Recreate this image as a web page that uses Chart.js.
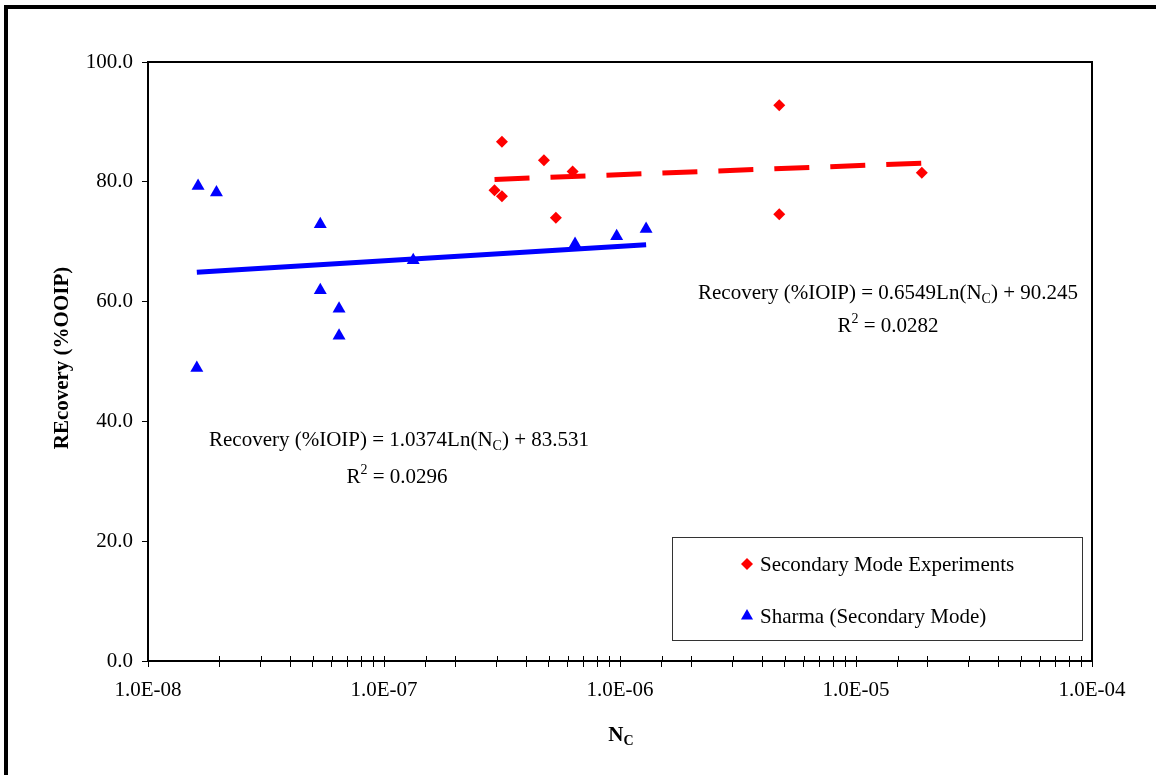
<!DOCTYPE html>
<html>
<head>
<meta charset="utf-8">
<title>Recovery vs capillary number</title>
<script src="https://cdn.jsdelivr.net/npm/chart.js@4.4.0/dist/chart.umd.min.js"></script>
<style>
  html, body { margin: 0; padding: 0; background: #fff; }
  #wrap { position: relative; width: 1156px; height: 775px; overflow: hidden; }
  #chart { position: absolute; left: 0; top: 0; }
  #frame {
    position: absolute; left: 4px; top: 5px; width: 1200px; height: 800px;
    border-top: 4px solid #000; border-left: 4px solid #000; pointer-events: none;
  }
</style>
</head>
<body>
<div id="wrap">
  <canvas id="chart" width="1156" height="775"></canvas>
  <div id="frame"></div>
</div>
<script>
// Secondary mode experiments
const expNc = [3.16e-7, 4.76e-7, 6.3e-7, 2.94e-7, 3.16e-7, 5.35e-7, 4.73e-6, 4.73e-6, 1.9e-5];
const expRecovery = [86.7, 83.6, 81.7, 78.6, 77.6, 74.0, 92.8, 74.6, 81.5];

// Sharma (secondary mode)
const sharmaNc = [1.63e-8, 1.95e-8, 5.37e-8, 5.37e-8, 6.45e-8, 6.45e-8, 1.61e-8, 1.33e-7, 6.45e-7, 9.68e-7, 1.29e-6];
const sharmaRecovery = [79.3, 78.2, 72.9, 61.9, 58.8, 54.3, 48.9, 66.9, 69.6, 70.9, 72.1];

// Log trendlines, ends of each fitted range
const expTrendNc = [2.94e-7, 1.9e-5];
const expTrendRecovery = [80.4, 83.1];
const sharmaTrendNc = [1.61e-8, 1.29e-6];
const sharmaTrendRecovery = [64.9, 69.5];

const xTickLabels = ['1.0E-08', '1.0E-07', '1.0E-06', '1.0E-05', '1.0E-04'];
const yTickLabels = ['0.0', '20.0', '40.0', '60.0', '80.0', '100.0'];

const legendLabels = ['Secondary Mode Experiments', 'Sharma (Secondary Mode)'];

const SERIF = '"Liberation Serif", "Times New Roman", serif';
const FONT_SIZE = 21;
const toPoints = (xs, ys) => xs.map((x, i) => ({ x, y: ys[i] }));

// text with sub/superscript pieces, centred on cx
function drawRich(ctx, parts, cx, baseline, size, bold) {
  const small = Math.round(size * 0.66);
  const fontOf = s => (bold ? 'bold ' : '') + s + 'px ' + SERIF;
  let total = 0;
  parts.forEach(([t, m]) => { ctx.font = fontOf(m ? small : size); total += ctx.measureText(t).width; });
  let x = cx - total / 2;
  ctx.textAlign = 'left';
  ctx.textBaseline = 'alphabetic';
  parts.forEach(([t, m]) => {
    ctx.font = fontOf(m ? small : size);
    const dy = m === 'sub' ? size * 0.2 : m === 'sup' ? -size * 0.42 : 0;
    ctx.fillText(t, x, baseline + dy);
    x += ctx.measureText(t).width;
  });
}

const decorations = {
  id: 'decorations',
  afterDraw(chart) {
    const ctx = chart.ctx;
    const a = chart.chartArea;
    const xScale = chart.scales.x;
    ctx.save();

    // plot box
    ctx.strokeStyle = '#000';
    ctx.lineWidth = 2;
    ctx.strokeRect(a.left, a.top, a.right - a.left, a.bottom - a.top);

    // x tick marks cross the axis line
    ctx.lineWidth = 1;
    ctx.beginPath();
    xScale.ticks.forEach(t => {
      const px = Math.round(xScale.getPixelForValue(t.value)) + 0.5;
      ctx.moveTo(px, a.bottom - 5);
      ctx.lineTo(px, a.bottom);
    });
    ctx.stroke();

    ctx.fillStyle = '#000';
    // axis titles
    drawRich(ctx, [['N'], ['C', 'sub']], 621, 741, FONT_SIZE, true);
    ctx.save();
    ctx.translate(68, 358);
    ctx.rotate(-Math.PI / 2);
    drawRich(ctx, [['REcovery (%OOIP)']], 0, 0, FONT_SIZE, true);
    ctx.restore();

    // trendline equations
    drawRich(ctx, [['Recovery (%IOIP) = 0.6549Ln(N'], ['C', 'sub'], [') + 90.245']], 888, 299, FONT_SIZE);
    drawRich(ctx, [['R'], ['2', 'sup'], [' = 0.0282']], 888, 332, FONT_SIZE);
    drawRich(ctx, [['Recovery (%IOIP) = 1.0374Ln(N'], ['C', 'sub'], [') + 83.531']], 399, 446, FONT_SIZE);
    drawRich(ctx, [['R'], ['2', 'sup'], [' = 0.0296']], 397, 483, FONT_SIZE);

    // legend
    ctx.fillStyle = '#fff';
    ctx.fillRect(672, 537, 411, 104);
    ctx.strokeStyle = '#333';
    ctx.lineWidth = 1;
    ctx.strokeRect(672.5, 537.5, 410, 103);
    const items = [
      { style: 'rectRot', radius: 6, color: '#ff0000', y: 564 },
      { style: 'triangle', radius: 7, color: '#0000ff', y: 616 }
    ];
    items.forEach((it, i) => {
      ctx.fillStyle = it.color;
      Chart.helpers.drawPoint(ctx, { pointStyle: it.style, radius: it.radius, borderWidth: 0 }, 747, it.y);
      ctx.fillStyle = '#000';
      ctx.font = FONT_SIZE + 'px ' + SERIF;
      ctx.textAlign = 'left';
      ctx.textBaseline = 'middle';
      ctx.fillText(legendLabels[i], 760, it.y + 1);
    });

    ctx.restore();
  }
};

new Chart(document.getElementById('chart'), {
  type: 'scatter',
  data: {
    datasets: [
      {
        label: 'Secondary trend',
        type: 'line',
        data: toPoints(expTrendNc, expTrendRecovery),
        borderColor: '#ff0000',
        borderWidth: 5,
        borderDash: [35, 21],
        pointRadius: 0,
        fill: false,
        order: 0
      },
      {
        label: 'Sharma trend',
        type: 'line',
        data: toPoints(sharmaTrendNc, sharmaTrendRecovery),
        borderColor: '#0000ff',
        borderWidth: 5,
        pointRadius: 0,
        fill: false,
        order: 0
      },
      {
        label: legendLabels[0],
        data: toPoints(expNc, expRecovery),
        pointStyle: 'rectRot',
        pointRadius: 6,
        backgroundColor: '#ff0000',
        borderWidth: 0,
        order: 1
      },
      {
        label: legendLabels[1],
        data: toPoints(sharmaNc, sharmaRecovery),
        pointStyle: 'triangle',
        pointRadius: 7.5,
        backgroundColor: '#0000ff',
        borderWidth: 0,
        order: 1
      }
    ]
  },
  options: {
    responsive: false,
    animation: false,
    layout: { padding: { left: 8, top: 62, right: 64, bottom: 0 } },
    plugins: { legend: { display: false }, tooltip: { enabled: false } },
    scales: {
      x: {
        type: 'logarithmic',
        min: 1e-8,
        max: 1e-4,
        afterFit(scale) { scale.height = 114; },
        border: { color: '#000', width: 2 },
        grid: { drawOnChartArea: false, drawTicks: true, tickLength: 6, color: '#000', lineWidth: 1 },
        ticks: {
          autoSkip: false,
          maxRotation: 0,
          padding: 11,
          color: '#000',
          font: { family: SERIF, size: FONT_SIZE },
          callback(value) {
            const p = Math.log10(value);
            if (Math.abs(p - Math.round(p)) > 1e-9) return '';
            return xTickLabels[Math.round(p) + 8] || '';
          }
        }
      },
      y: {
        min: 0,
        max: 100,
        afterFit(scale) { scale.width = 140; },
        border: { color: '#000', width: 2 },
        grid: { drawOnChartArea: false, drawTicks: true, tickLength: 6, color: '#000', lineWidth: 1 },
        ticks: {
          stepSize: 20,
          padding: 9,
          color: '#000',
          font: { family: SERIF, size: FONT_SIZE },
          callback(value) { return yTickLabels[Math.round(value / 20)]; }
        }
      }
    }
  },
  plugins: [decorations]
});
</script>
</body>
</html>
